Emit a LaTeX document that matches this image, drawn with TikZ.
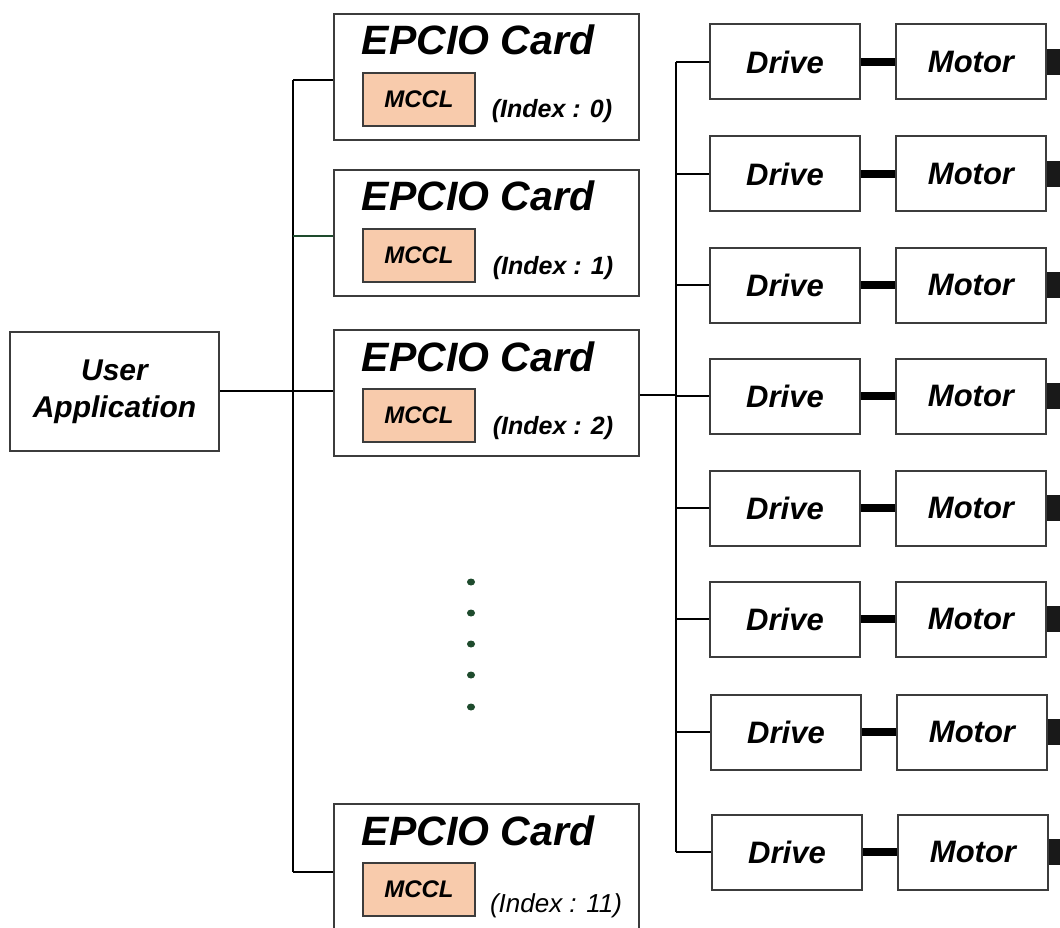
\documentclass[tikz,border=0pt]{standalone}
\usepackage{fontspec}
\setmainfont{Liberation Sans}
\definecolor{peach}{RGB}{248,203,172}
\definecolor{boxline}{RGB}{60,60,60}
\definecolor{dgreen}{RGB}{30,75,45}
\tikzset{
  box/.style={draw=boxline,line width=2pt,fill=white,inner sep=0pt,rectangle},
  cardbox/.style={box,minimum width=305pt,minimum height=126pt,anchor=north west},
  mcclbox/.style={draw=boxline,line width=1.6pt,fill=peach,minimum width=112pt,minimum height=53pt,inner sep=0pt,
     font=\fontsize{24}{28}\selectfont\bfseries\itshape},
  titletxt/.style={anchor=base,inner sep=0pt,font=\fontsize{41}{48}\selectfont\bfseries\itshape},
  idxtxt/.style={anchor=base,inner sep=0pt,font=\fontsize{25}{30}\selectfont\bfseries\itshape},
  drivebox/.style={box,minimum width=150pt,minimum height=75pt,font=\fontsize{31}{36}\selectfont\bfseries\itshape},
  conn/.style={draw=black,line width=2pt},
  thickconn/.style={draw=black,line width=8pt},
}
\newcommand\mkcard[4]{%
  \node[cardbox,#4] (#1) at (333,#2) {};
  \node[titletxt] (#1t) at (478,#2+42) {EPCIO Card};
  \node[mcclbox] (#1m) at (419,#2+86.5) {MCCL};
}
\begin{document}
\begin{tikzpicture}[x=1pt,y=-1pt]
\clip (0,0) rectangle (1060,928);
\useasboundingbox (0,0) rectangle (1060,928);
\fill[white] (0,0) rectangle (1060,928);

% user application
\node[box,minimum width=209pt,minimum height=119pt,align=center,
  font=\fontsize{30}{37}\selectfont\bfseries\itshape] (ua) at (114.5,391.5) {User\\Application};

% cards
\mkcard{c0}{13}{0}{}
\node[idxtxt] (c0i) at (552,118) {(Index : 0)};
\mkcard{c1}{169}{1}{}
\node[idxtxt] (c1i) at (553,274) {(Index : 1)};
\mkcard{c2}{329}{2}{}
\node[idxtxt] (c2i) at (553,434) {(Index : 2)};
\mkcard{c11}{803}{11}{minimum height=150pt}
\node[anchor=base,inner sep=0pt,font=\fontsize{26}{30}\selectfont\itshape] (c11i) at (556,912) {(Index : 11)};

% left bus
\coordinate (b0) at (293,80);
\coordinate (b1) at (293,236);
\coordinate (b2) at (293,391);
\coordinate (b11) at (293,872);
\draw[conn] (b0) -- (b11);
\draw[conn] (b0) -- (b0 -| c0.west);
\draw[draw=dgreen,line width=1.6pt] (b1) -- (b1 -| c1.west);
\draw[conn] (ua.east |- b2) -- (b2 -| c2.west);
\draw[conn] (b11) -- (b11 -| c11.west);

% dots
\foreach \yy in {582,613,644,675,707} \fill[dgreen] (471,\yy) ellipse (4pt and 3.5pt);

% drives and motors
\foreach \n/\yy/\dx in {1/62/0,2/174/0,3/285/0,4/396/0,5/508/0,6/619/0,7/732/1,8/852/2} {
  \node[drivebox] (d\n) at (785+\dx,\yy) {Drive};
  \node[drivebox] (m\n) at (971+\dx,\yy) {Motor};
  \draw[thickconn] (d\n.east) -- (m\n.west);
  \fill[black!90] ([yshift=13pt]m\n.east) rectangle ++(30pt,-26pt);
  \coordinate (r\n) at (676,\yy);
  \draw[conn] (r\n) -- (d\n.west);
}
\draw[conn] (r1) -- (r8);
\draw[conn] (c2.east |- 0,395) -- (676,395);
\end{tikzpicture}
\end{document}
